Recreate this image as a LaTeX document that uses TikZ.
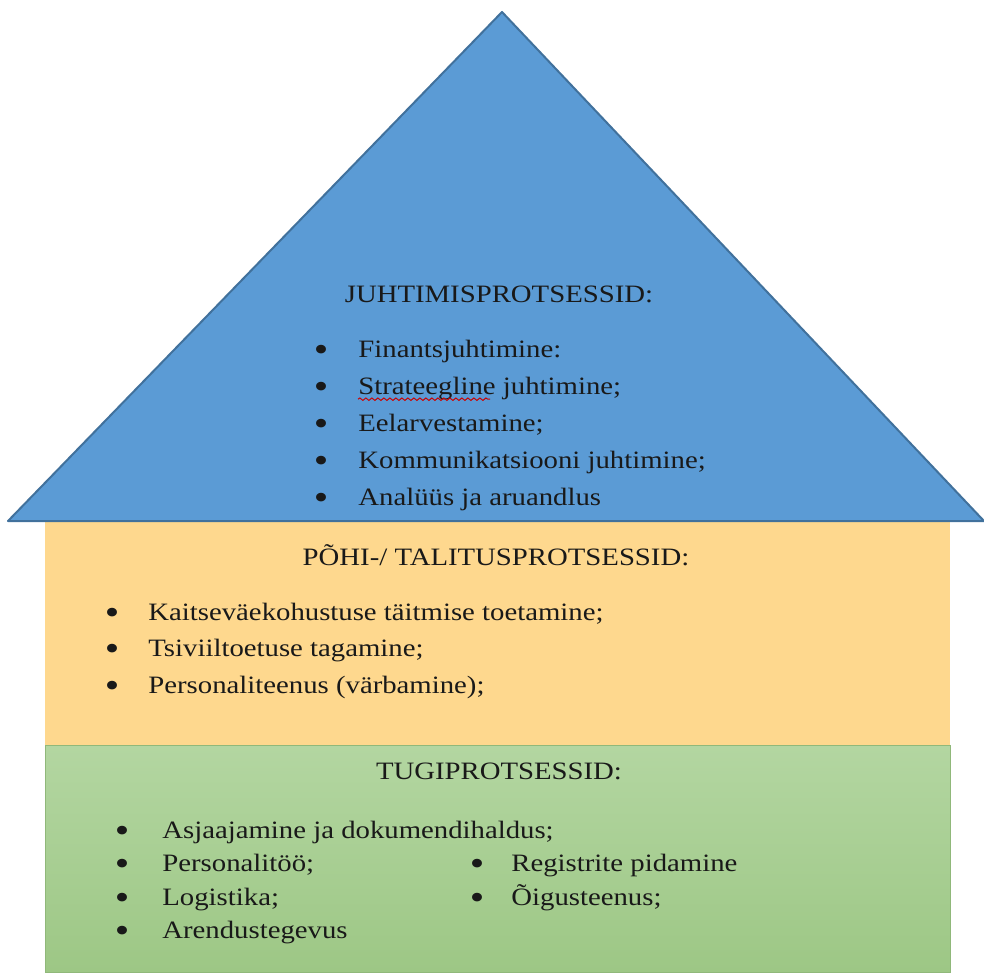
\documentclass[tikz,border=0pt]{standalone}
\usepackage{fontspec}
\setmainfont{Liberation Serif}[FakeStretch=1.15]
\usetikzlibrary{decorations.pathmorphing}

\definecolor{roofblue}{HTML}{5B9BD5}
\definecolor{roofline}{HTML}{41719C}
\definecolor{wallorange}{HTML}{FED88E}
\definecolor{baselight}{HTML}{B3D6A1}
\definecolor{basedark}{HTML}{9DC785}
\definecolor{baseedge}{HTML}{90B87A}

\begin{document}
\begin{tikzpicture}[x=0.5pt,y=-0.5pt,font=\fontsize{12.5}{15}\selectfont]
    \tikzstyle{item}=[anchor=base west,inner sep=0pt,text=black!90]
    \tikzstyle{dot}=[anchor=base,inner sep=0pt,text=black!90,font=\fontsize{18}{18}\selectfont]
    \tikzstyle{head}=[anchor=base,inner sep=0pt,text=black!90]
    \useasboundingbox (0,0) rectangle (984,974);

    % house
    \fill[wallorange] (45,521) rectangle (950,745);
    \draw[baseedge,top color=baselight,bottom color=basedark] (45,745) rectangle (950,972);
    \draw[roofline,fill=roofblue,line width=1pt,line join=round] (8,521) -- (502,12) -- (984,521) -- cycle;

    % roof
    \node[head] (J-0) at (499,302) {JUHTIMISPROTSESSID:};
    \foreach \t [count=\i] in {Finantsjuhtimine:,Strateegline juhtimine;,Eelarvestamine;,Kommunikatsiooni juhtimine;,Analüüs ja aruandlus}
    {
    \node[dot] (Jb-\i) at (321,{361+37.2*(\i-1)}) {•};
    \node[item] (J-\i) at (358,{357+37.2*(\i-1)}) {\t};
    }
    \draw[red!80!black,line width=0.5pt,decorate,decoration={snake,amplitude=0.6pt,segment length=3pt}]
    ([yshift=-2.5pt]J-2.base west) -- ([yshift=-2.5pt,xshift=66pt]J-2.base west);

    % wall
    \node[head] (P-0) at (496,565) {PÕHI-/ TALITUSPROTSESSID:};
    \foreach \t [count=\i] in {Kaitseväekohustuse täitmise toetamine;,Tsiviiltoetuse tagamine;,{Personaliteenus (värbamine);}}
    {
    \node[dot] (Pb-\i) at (112,{624+36.5*(\i-1)}) {•};
    \node[item] (P-\i) at (148,{620+36.5*(\i-1)}) {\t};
    }

    % base
    \node[head] (T-0) at (499,779) {TUGIPROTSESSID:};
    \foreach \t [count=\i] in {Asjaajamine ja dokumendihaldus;,Personalitöö;,Logistika;,Arendustegevus}
    {
    \node[dot] (Tb-\i) at (122,{842+33.5*(\i-1)}) {•};
    \node[item] (T-\i) at (162,{838+33.5*(\i-1)}) {\t};
    }
    \foreach \t [count=\i] in {Registrite pidamine,Õigusteenus;}
    {
    \node[dot] (Rb-\i) at (477,{875.5+33.5*(\i-1)}) {•};
    \node[item] (R-\i) at (511,{871.5+33.5*(\i-1)}) {\t};
    }
\end{tikzpicture}
\end{document}
